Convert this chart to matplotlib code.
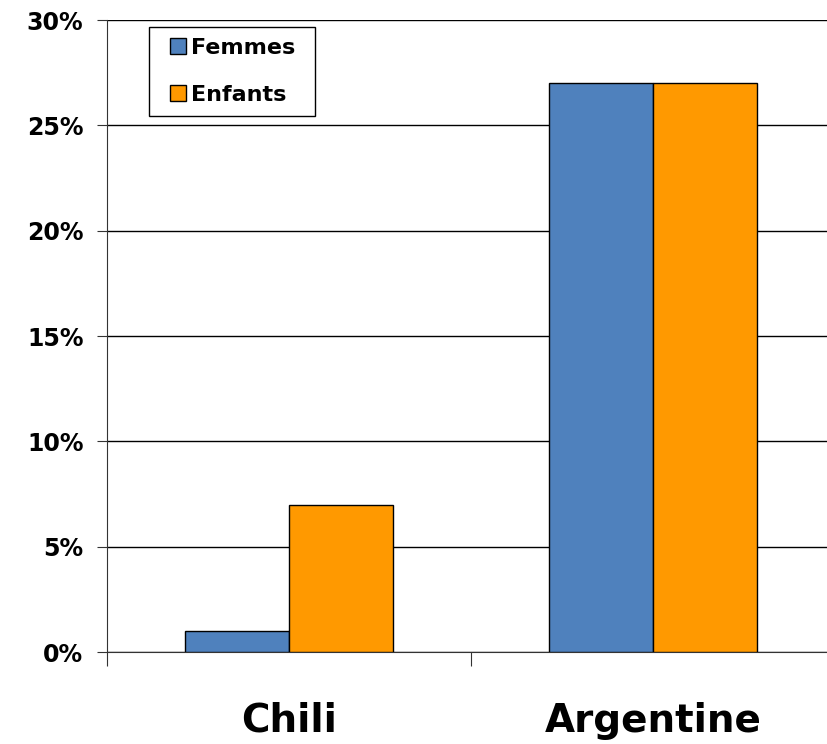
import numpy as np
import matplotlib.pyplot as plt
from matplotlib.patches import Rectangle
from matplotlib.ticker import PercentFormatter

pays = ['Chili', 'Argentine']
series = ['Femmes', 'Enfants']
femmes = [1, 27]
enfants = [7, 27]
couleurs = ['#4F81BD', '#FF9900']

W, H = 828, 744
fig = plt.figure(figsize=(W / 100, H / 100), dpi=100)
ax = fig.add_axes([107 / W, 92 / H, 728 / W, 632 / H])

x = np.arange(len(pays)) + 0.5
w = 0.286
ax.bar(x - w / 2, femmes, w, color=couleurs[0], edgecolor='black', linewidth=1, label=series[0], zorder=3)
ax.bar(x + w / 2, enfants, w, color=couleurs[1], edgecolor='black', linewidth=1, label=series[1], zorder=3)

ax.set_xlim(0, 2)
ax.set_ylim(0, 30)
ax.set_yticks(np.arange(0, 31, 5))
ax.yaxis.set_major_formatter(PercentFormatter(decimals=0))
ax.yaxis.grid(True, color='black', linewidth=1)
ax.set_axisbelow(True)

ax.set_xticks([0, 1, 2])
ax.set_xticklabels([])
ax.set_xticks(x, minor=True)
ax.set_xticklabels(pays, minor=True, fontsize=28, fontweight='bold')
ax.tick_params(axis='x', which='major', length=10, direction='out', color='#333333')
ax.tick_params(axis='x', which='minor', length=0, pad=36)
ax.tick_params(axis='y', length=7, pad=10, labelsize=17, color='#333333')
for lab in ax.get_yticklabels():
    lab.set_fontweight('bold')

for s in ['top', 'right']:
    ax.spines[s].set_visible(False)
ax.spines['left'].set_color('#333333')
ax.spines['bottom'].set_color('#333333')

# legend box drawn separately so its padding can differ horizontally / vertically
cadre = Rectangle((149 / W, 1 - 116 / H), 166 / W, 89 / H, transform=fig.transFigure,
                  facecolor='white', edgecolor='black', linewidth=1, zorder=4)
fig.patches.append(cadre)
leg = fig.legend(loc='upper left', bbox_to_anchor=(170 / W, 1 - 38 / H),
                 bbox_transform=fig.transFigure, frameon=False,
                 prop={'weight': 'bold', 'size': 16},
                 handlelength=0.7, handleheight=0.7, handletextpad=0.25, labelspacing=1.2,
                 borderpad=0, borderaxespad=0)
leg.set_zorder(5)
for h in leg.legend_handles:
    h.set_edgecolor('black')

fig.savefig('out.png', dpi=100)
